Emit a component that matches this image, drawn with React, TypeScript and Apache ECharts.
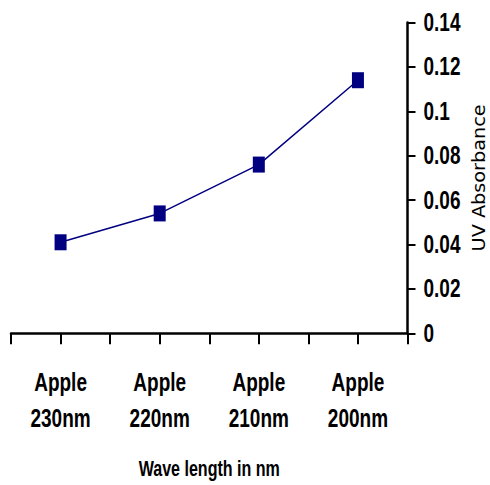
import React, { useEffect, useRef } from "react";
import * as echarts from "echarts";

// Wavelength categories and measured UV absorbance
const sampleNames = ["Apple", "Apple", "Apple", "Apple"];
const wavelengths = ["230nm", "220nm", "210nm", "200nm"];
const absorbance = [0.041, 0.054, 0.076, 0.114];
const yTicks = [0, 0.02, 0.04, 0.06, 0.08, 0.1, 0.12, 0.14];
const yTickLabels = ["0", "0.02", "0.04", "0.06", "0.08", "0.1", "0.12", "0.14"];
const xTitle = "Wave length in nm";
const yTitle = "UV Absorbance";

const categories = sampleNames.map((n, i) => `${n}\n${wavelengths[i]}`);

const W = 490;
const H = 485;
const GRID = { left: 11, right: 82.5, top: 22.5, bottom: 151.7 };

// Liberation Sans Bold squeezed horizontally gives a narrow bold face
const FONT = "'Liberation Sans', Arial, sans-serif";
const LABEL_SIZE = 25;
const SQUEEZE = 0.76;

export default function App() {
  const ref = useRef<HTMLDivElement>(null);

  useEffect(() => {
    if (!ref.current) return;
    const chart = echarts.init(ref.current, undefined, { renderer: "svg" });
    const tickStyle = { color: "#000", width: 2 };
    chart.setOption({
      animation: false,
      backgroundColor: "#ffffff",
      grid: { ...GRID, containLabel: false, outerBoundsMode: "none" },
      xAxis: [
        {
          type: "category",
          data: categories,
          boundaryGap: true,
          axisLine: { show: true, lineStyle: { color: "#000", width: 2.5 } },
          axisTick: { show: true, interval: 0, length: 11, lineStyle: tickStyle },
          axisLabel: { show: false },
        },
        {
          // second tick row: ticks under each category centre
          type: "category",
          data: categories,
          boundaryGap: true,
          position: "bottom",
          axisLine: { show: false },
          axisTick: { show: true, alignWithLabel: true, interval: 0, length: 11, lineStyle: tickStyle },
          axisLabel: { show: false },
        },
      ],
      yAxis: {
        type: "value",
        position: "right",
        min: 0,
        max: 0.14,
        interval: 0.02,
        splitLine: { show: false },
        axisLine: { show: true, lineStyle: { color: "#000", width: 2.5 } },
        axisTick: { show: true, length: 8, lineStyle: tickStyle },
        axisLabel: { show: false },
      },
      series: [
        {
          type: "line",
          xAxisIndex: 0,
          data: absorbance,
          symbol: "rect",
          symbolSize: [12, 16],
          lineStyle: { color: "#000080", width: 1.5 },
          itemStyle: { color: "#000080" },
        },
      ],
    });

    const axisX = W - GRID.right;
    const axisY = H - GRID.bottom;
    const graphic: any[] = [];

    yTicks.forEach((v, i) => {
      const py = chart.convertToPixel({ yAxisIndex: 0 }, v) as number;
      graphic.push({
        type: "text",
        x: axisX + 16,
        y: py,
        scaleX: SQUEEZE,
        style: {
          text: yTickLabels[i],
          fill: "#000",
          font: `bold ${LABEL_SIZE}px ${FONT}`,
          align: "left",
          verticalAlign: "middle",
        },
      });
    });

    categories.forEach((c, i) => {
      const px = chart.convertToPixel({ xAxisIndex: 0 }, i) as number;
      graphic.push({
        type: "text",
        x: px,
        y: axisY + 67.5,
        scaleX: SQUEEZE,
        style: {
          text: c,
          fill: "#000",
          font: `bold ${LABEL_SIZE}px ${FONT}`,
          lineHeight: 36.5,
          align: "center",
          verticalAlign: "middle",
        },
      });
    });

    graphic.push({
      type: "text",
      x: (GRID.left + axisX) / 2,
      y: 469,
      scaleX: 0.73,
      style: {
        text: xTitle,
        fill: "#000",
        font: `bold 22px ${FONT}`,
        align: "center",
        verticalAlign: "middle",
      },
    });

    // rotated axis title, stretched slightly along its length
    graphic.push({
      type: "text",
      x: 479,
      y: (GRID.top + axisY) / 2,
      rotation: Math.PI / 2,
      scaleX: 1.07,
      style: {
        text: yTitle,
        fill: "#000",
        font: "18px 'DejaVu Sans', sans-serif",
        align: "center",
        verticalAlign: "middle",
      },
    });

    chart.setOption({ graphic });
    return () => chart.dispose();
  }, []);

  return <div ref={ref} style={{ width: W, height: H, position: "absolute", left: 0, top: 0 }} />;
}
